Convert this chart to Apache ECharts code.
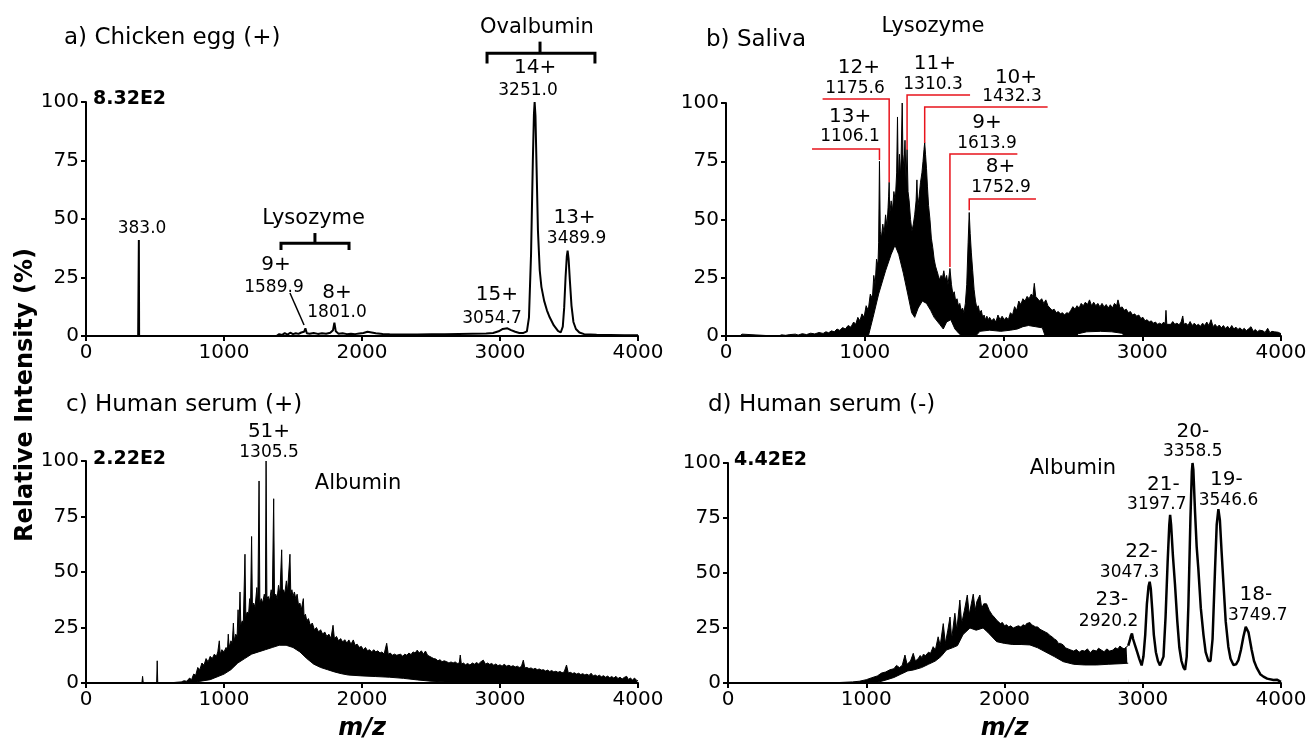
<!DOCTYPE html>
<html>
<head>
<meta charset="utf-8">
<script src="https://cdn.jsdelivr.net/npm/echarts@6/dist/echarts.min.js"></script>
<style>
  html, body { margin: 0; background: #fff; }
  #chart { width: 1312px; height: 744px; }
</style>
</head>
<body>
<div id="chart"></div>
<script>
// axis ticks
const mzTicks = [0, 1000, 2000, 3000, 4000];
const intensityTicks = [0, 25, 50, 75, 100];

// a) chicken egg (+), single trace
const eggTrace = [
  [0, 0], [378, 0], [381, 0], [383, 41], [385, 0], [1380, 0], [1400, 0.8], [1420, 0.4], [1440, 1.2], [1460, 0.6],
  [1480, 1.4], [1500, 0.8], [1520, 1.2], [1540, 0.9], [1560, 1.5], [1580, 1.8], [1590, 3.3], [1600, 1.2], [1620, 1],
  [1650, 1.3], [1680, 0.9], [1710, 1.2], [1740, 1], [1770, 1.4], [1790, 2.5], [1800, 5.7], [1810, 2], [1830, 1],
  [1860, 1.2], [1890, 0.8], [1920, 1], [1950, 0.8], [1980, 1.1], [2010, 1.3], [2040, 1.8], [2070, 1.5], [2100, 1.2],
  [2150, 0.9], [2200, 0.7], [2300, 0.6], [2400, 0.6], [2500, 0.7], [2600, 0.8], [2700, 0.9], [2800, 1], [2900, 1.1],
  [2950, 1.3], [2990, 2], [3020, 3], [3054, 3.3], [3080, 2.5], [3110, 1.8], [3140, 1.3], [3170, 1.3], [3195, 2],
  [3210, 8], [3225, 35], [3238, 75], [3246, 95], [3251, 100], [3257, 94], [3265, 72], [3275, 45], [3288, 28],
  [3300, 21], [3320, 15], [3340, 11], [3360, 8], [3390, 4.5], [3420, 2.2], [3440, 1.5], [3455, 4], [3465, 12],
  [3475, 25], [3484, 34], [3490, 36.5], [3497, 33], [3506, 24], [3518, 13], [3532, 6], [3550, 3], [3575, 1.5],
  [3610, 0.8], [3700, 0.5], [3800, 0.4], [3900, 0.3], [4000, 0.3]
];

// b) saliva, upper and lower edge of the dense trace
const salivaUpper = [
  [0, 0], [100, 0], [115, 0.8], [125, 0], [350, 0], [360, 0.6], [380, 0], [400, 0.5], [430, 0.3], [460, 0.6],
  [500, 0.8], [520, 0.4], [550, 1], [580, 0.6], [610, 1.2], [640, 0.9], [670, 1.5], [700, 1.1], [720, 1.8],
  [740, 1.4], [760, 2.2], [780, 1.8], [800, 3], [820, 2.4], [840, 3.6], [860, 3], [880, 4.5], [900, 3.8],
  [920, 6], [935, 5], [950, 8], [965, 6.5], [980, 9.5], [995, 8], [1010, 13], [1025, 11], [1040, 18], [1055, 16],
  [1065, 26], [1075, 22], [1085, 33], [1095, 30], [1100, 40], [1106, 75], [1112, 45], [1120, 42], [1130, 48],
  [1140, 44], [1150, 52], [1160, 47], [1168, 55], [1172, 60], [1176, 66], [1180, 52], [1190, 58], [1200, 54],
  [1210, 62], [1220, 58], [1230, 70], [1236, 94], [1242, 66], [1250, 78], [1256, 68], [1262, 76], [1270, 100],
  [1275, 78], [1282, 72], [1290, 84], [1298, 66], [1305, 80], [1312, 62], [1320, 58], [1330, 50], [1340, 45],
  [1350, 48], [1360, 52], [1370, 58], [1376, 67], [1382, 55], [1392, 60], [1402, 66], [1412, 70], [1420, 75],
  [1427, 80], [1432, 83], [1438, 78], [1445, 72], [1452, 64], [1460, 56], [1470, 50], [1480, 42], [1490, 38],
  [1500, 33], [1510, 30], [1520, 28], [1530, 26], [1540, 24], [1550, 26], [1560, 25], [1570, 28], [1580, 24],
  [1590, 26], [1600, 22], [1614, 29], [1625, 22], [1635, 18], [1645, 19], [1655, 15], [1665, 16], [1675, 13],
  [1685, 14], [1695, 11], [1705, 12], [1715, 10], [1725, 14], [1735, 22], [1745, 40], [1753, 53], [1760, 44],
  [1768, 36], [1778, 28], [1788, 20], [1798, 15], [1808, 12], [1818, 13], [1828, 10], [1840, 11], [1850, 8],
  [1860, 9], [1870, 7], [1880, 8.5], [1890, 7], [1900, 8], [1915, 6.5], [1930, 7.5], [1945, 6], [1960, 9],
  [1975, 7], [1990, 8.5], [2005, 7], [2020, 8], [2035, 7], [2050, 10], [2065, 9], [2080, 12.6], [2095, 11],
  [2110, 15], [2125, 13.5], [2140, 16], [2155, 15], [2170, 17], [2185, 16], [2200, 18], [2212, 17], [2222, 22.6],
  [2232, 17], [2245, 16.5], [2260, 15], [2275, 16], [2290, 14], [2305, 15.5], [2320, 13], [2335, 12], [2350, 11],
  [2365, 11.5], [2380, 10], [2395, 10.5], [2410, 9.5], [2425, 10], [2440, 9], [2455, 10], [2470, 9.7], [2485, 11],
  [2500, 12.6], [2515, 11.5], [2530, 13], [2545, 12], [2560, 14], [2575, 13], [2590, 14.5], [2605, 13.5],
  [2620, 15.5], [2635, 13], [2650, 14.5], [2665, 13], [2680, 14], [2695, 12.5], [2710, 14], [2725, 12.5],
  [2740, 13.5], [2755, 12], [2770, 13.4], [2785, 12], [2800, 14], [2815, 13], [2825, 15.5], [2840, 12],
  [2855, 12.5], [2870, 11], [2885, 11.5], [2900, 10], [2915, 10.5], [2930, 9], [2945, 9.5], [2960, 8.5],
  [2975, 9], [2990, 7.5], [3005, 8], [3020, 6.5], [3035, 7], [3050, 6], [3065, 6.5], [3080, 5.5], [3095, 6],
  [3110, 5], [3125, 5.5], [3140, 5], [3155, 6], [3165, 5], [3171, 11], [3177, 5], [3190, 5.5], [3205, 5],
  [3220, 6.2], [3235, 5], [3250, 5.5], [3265, 4.8], [3280, 6], [3292, 8.6], [3300, 5], [3315, 5.5], [3330, 4.5],
  [3345, 6.2], [3360, 4.5], [3375, 5.5], [3390, 4.5], [3405, 5], [3420, 4.2], [3435, 5.5], [3450, 4.5], [3465, 6],
  [3480, 4.5], [3496, 7], [3510, 4], [3525, 5], [3540, 3.8], [3555, 4.7], [3570, 3.5], [3585, 4.5], [3600, 3.2],
  [3615, 4.2], [3630, 3], [3645, 4.5], [3660, 3], [3675, 3.8], [3690, 2.8], [3705, 3.5], [3720, 2.5], [3735, 3.3],
  [3750, 2.3], [3765, 3], [3784, 4], [3800, 2], [3815, 2.8], [3830, 1.8], [3845, 2.5], [3856, 1.8], [3870, 2.2],
  [3885, 1.5], [3904, 3.3], [3920, 1.4], [3935, 2], [3952, 1.8], [3965, 1.2], [3980, 1.6], [4000, 1]
];
const salivaLower = [
  [0, 0], [1026, 0], [1060, 8], [1100, 18], [1150, 28], [1190, 35], [1218, 39], [1245, 35], [1278, 27],
  [1310, 18], [1338, 10], [1360, 8], [1385, 12], [1415, 15], [1445, 14], [1475, 11], [1500, 8], [1540, 5],
  [1566, 3], [1590, 6], [1620, 7], [1650, 3], [1680, 1], [1700, 0], [1800, 0], [1830, 2], [1900, 2.5], [1980, 2],
  [2050, 2.5], [2100, 3], [2140, 4], [2180, 4.5], [2230, 4], [2280, 3.5], [2300, 0], [2520, 0], [2540, 1],
  [2600, 1.8], [2700, 2], [2780, 1.8], [2850, 1.2], [2880, 0], [4000, 0]
];

// c) human serum (+)
const serumPosUpper = [
  [0, 0], [405, 0], [410, 3], [415, 0], [512, 0], [516, 10], [520, 0], [600, 0], [650, 0.3], [690, 0.5], [710, 1],
  [730, 0.8], [750, 2.2], [765, 1.5], [780, 4], [795, 3.5], [810, 7], [825, 6], [840, 9], [855, 8], [870, 11],
  [885, 9.5], [900, 12], [915, 11], [930, 13], [945, 12], [955, 14], [966, 19], [972, 13], [985, 15], [1000, 14],
  [1015, 16], [1025, 15], [1031, 22], [1037, 16], [1050, 19], [1060, 18], [1068, 27], [1074, 19], [1085, 22],
  [1095, 21], [1102, 33], [1108, 23], [1116, 41], [1122, 26], [1132, 28], [1140, 27], [1152, 58], [1158, 30],
  [1168, 32], [1178, 31], [1186, 38], [1192, 33], [1200, 66], [1206, 34], [1215, 36], [1225, 34], [1238, 43],
  [1245, 35], [1254, 91], [1260, 36], [1270, 38], [1280, 36], [1292, 40], [1300, 37], [1305, 100], [1311, 38],
  [1320, 39], [1330, 37], [1342, 42], [1350, 38], [1360, 83], [1366, 39], [1375, 40], [1385, 38], [1395, 44],
  [1405, 40], [1418, 60], [1424, 41], [1432, 42], [1440, 40], [1452, 46], [1460, 41], [1478, 58], [1484, 40],
  [1492, 42], [1500, 39], [1510, 41], [1520, 38], [1530, 40], [1540, 35], [1550, 36], [1560, 33], [1575, 38],
  [1580, 30], [1590, 31], [1600, 28], [1612, 29], [1625, 26], [1640, 27], [1655, 24], [1670, 25], [1685, 23],
  [1700, 24], [1715, 22], [1730, 23], [1745, 21], [1760, 22], [1775, 20], [1790, 26], [1800, 20], [1815, 21],
  [1830, 19], [1845, 20], [1860, 18.5], [1875, 19.5], [1890, 18], [1905, 19.4], [1920, 17.5], [1937, 19.4],
  [1950, 17], [1965, 17.5], [1980, 16], [1995, 16.5], [2010, 15], [2025, 16], [2040, 14.5], [2055, 15], [2070, 14],
  [2085, 15], [2100, 14], [2115, 14.5], [2130, 13.5], [2145, 14], [2160, 13], [2179, 17.9], [2190, 13],
  [2205, 13.5], [2220, 12.5], [2235, 13], [2251, 12.5], [2265, 12], [2280, 13], [2295, 12], [2310, 13],
  [2325, 12.5], [2340, 13.5], [2355, 12.8], [2370, 14], [2385, 13.5], [2400, 14.8], [2415, 13.5], [2430, 14.5],
  [2445, 13], [2460, 14.4], [2475, 12.5], [2490, 12], [2505, 11.5], [2520, 11], [2535, 10.8], [2550, 10],
  [2565, 10.5], [2580, 9.6], [2595, 10], [2614, 9.6], [2630, 9], [2645, 9.5], [2660, 9], [2675, 9.5], [2690, 8.8],
  [2705, 9], [2712, 12.6], [2720, 8.5], [2735, 9], [2750, 8.2], [2765, 8.8], [2782, 8.1], [2800, 9], [2815, 8.5],
  [2830, 9.2], [2845, 8.6], [2860, 9.5], [2879, 10.3], [2895, 8.5], [2910, 9], [2925, 8.4], [2940, 8.8], [2955, 8],
  [2970, 8.6], [2985, 7.8], [3000, 8.2], [3015, 7.6], [3030, 8.4], [3048, 7.6], [3065, 8], [3080, 7.4], [3095, 7.8],
  [3110, 7.2], [3125, 7.6], [3140, 7], [3155, 7.4], [3169, 10.3], [3180, 6.8], [3195, 7], [3210, 6.5], [3225, 6.8],
  [3240, 6.2], [3255, 6.6], [3270, 6], [3285, 6.3], [3300, 5.8], [3315, 6], [3330, 5.4], [3345, 5.8], [3360, 5.2],
  [3375, 5.6], [3390, 5], [3405, 5.3], [3420, 4.8], [3435, 5.2], [3450, 4.6], [3465, 5], [3482, 8.1], [3495, 4.5],
  [3510, 4.8], [3525, 4.3], [3540, 4.6], [3555, 4], [3570, 4.4], [3585, 3.8], [3600, 4.2], [3615, 3.6], [3630, 4],
  [3645, 3.4], [3660, 4.4], [3675, 3.2], [3690, 3.6], [3705, 3], [3720, 3.5], [3735, 2.8], [3750, 3.3], [3765, 2.6],
  [3780, 3.1], [3795, 2.4], [3810, 2.9], [3825, 2.2], [3840, 3], [3855, 2], [3870, 2.6], [3885, 1.8], [3900, 2.5],
  [3918, 3], [3930, 1.6], [3945, 2.2], [3960, 1.4], [3975, 2.2], [3990, 1.2], [4000, 1]
];
const serumPosLower = [
  [0, 0], [700, 0], [800, 0.5], [900, 1.5], [1000, 4], [1050, 6], [1100, 9], [1150, 11], [1200, 13], [1250, 14],
  [1300, 15], [1350, 16], [1400, 17], [1450, 17], [1500, 16], [1550, 14], [1600, 11], [1650, 8.5], [1700, 7],
  [1750, 6], [1800, 5], [1850, 4.2], [1900, 3.6], [2000, 3.2], [2100, 2.9], [2200, 2.6], [2300, 2.1], [2400, 1.4],
  [2500, 0.8], [2600, 0.5], [2800, 0.3], [3000, 0.2], [4000, 0]
];

// d) human serum (-): dense part, then resolved charge states
const serumNegUpper = [
  [0, 0], [700, 0], [800, 0.2], [900, 0.5], [950, 0.8], [1000, 1.5], [1040, 2.4], [1080, 3.2], [1110, 4.5],
  [1140, 5], [1171, 6], [1200, 6.5], [1219, 8], [1240, 7], [1260, 8], [1280, 12.7], [1295, 8.5], [1320, 10],
  [1340, 13.5], [1355, 10], [1375, 11], [1390, 12.5], [1405, 11.5], [1412, 13], [1430, 12.5], [1450, 14],
  [1465, 13.5], [1484, 16.5], [1500, 15], [1520, 21], [1535, 17], [1557, 27], [1572, 18], [1590, 24], [1606, 30],
  [1618, 20], [1641, 31.7], [1655, 24], [1677, 37.7], [1690, 27], [1710, 33], [1731, 40], [1745, 31], [1760, 36],
  [1774, 40.4], [1788, 33], [1800, 37], [1822, 40], [1835, 34], [1850, 36], [1870, 36], [1890, 33], [1910, 31],
  [1925, 30], [1943, 28.6], [1955, 29], [1970, 27], [1985, 27.5], [2000, 26], [2015, 26.5], [2030, 25.5],
  [2045, 26], [2063, 25], [2080, 25.5], [2100, 26], [2118, 25.5], [2135, 26.5], [2150, 26], [2160, 27],
  [2172, 26.5], [2184, 27.5], [2196, 26.5], [2210, 26.5], [2225, 25.5], [2240, 25.5], [2255, 24.5], [2270, 24],
  [2285, 23.5], [2300, 23], [2315, 22.5], [2330, 21.5], [2345, 21], [2360, 20], [2375, 19.5], [2390, 18],
  [2405, 18], [2425, 17.3], [2440, 16], [2460, 15.5], [2480, 15], [2500, 14.5], [2520, 15.2], [2540, 14],
  [2560, 14.8], [2580, 14.5], [2600, 15.5], [2620, 13.8], [2640, 15], [2666, 14.5], [2680, 15.8], [2700, 15],
  [2720, 14.2], [2740, 15.5], [2760, 14.5], [2786, 15], [2800, 16], [2820, 15.5], [2835, 16.8], [2850, 16],
  [2865, 15.5], [2883, 16.5], [2895, 17]
];
const serumNegLower = [
  [0, 0], [1000, 0], [1099, 0.6], [1150, 1.5], [1200, 2.5], [1250, 4], [1300, 5.5], [1340, 5.9], [1400, 7],
  [1450, 8.5], [1500, 10], [1540, 12], [1580, 15], [1623, 16], [1660, 17], [1700, 22], [1750, 25], [1795, 24],
  [1845, 25], [1880, 23], [1943, 18.8], [2000, 18], [2060, 17.5], [2120, 17.5], [2184, 17.3], [2240, 16],
  [2300, 14], [2360, 12], [2425, 9.7], [2500, 8.5], [2580, 8.2], [2666, 8.2], [2750, 8.5], [2850, 8.8], [2895, 9]
];
const serumNegPeaks = [
  [2895, 17], [2905, 19], [2915, 21.5], [2922, 22.5], [2930, 20], [2945, 17], [2960, 14], [2975, 11], [2992, 8],
  [3005, 12], [3018, 22], [3030, 36], [3042, 44], [3050, 46], [3058, 43], [3068, 34], [3080, 22], [3095, 14],
  [3110, 10], [3125, 8], [3137, 7.4], [3150, 12], [3165, 30], [3180, 55], [3192, 72], [3198, 76.4], [3205, 72],
  [3218, 58], [3233, 45], [3250, 28], [3265, 16], [3280, 10], [3295, 7], [3306, 6], [3318, 12], [3330, 35],
  [3345, 75], [3355, 96], [3360, 100], [3366, 97], [3378, 78], [3390, 62], [3402, 52], [3420, 34], [3439, 22],
  [3455, 14], [3475, 10], [3490, 10], [3505, 20], [3523, 52], [3535, 72], [3547, 79], [3558, 74], [3570, 60],
  [3583, 46], [3600, 28], [3619, 16.5], [3635, 11], [3656, 8.2], [3675, 8.5], [3692, 10.4], [3710, 15], [3728, 21],
  [3745, 25.5], [3752, 25.6], [3765, 23], [3788, 15], [3805, 10], [3824, 7], [3850, 4], [3873, 2.9], [3900, 2],
  [3945, 1.4], [3970, 1.5], [3993, 0.7], [4000, 0.5]
];

const panelTitles = ['a) Chicken egg (+)', 'b) Saliva', 'c) Human serum (+)', 'd) Human serum (-)'];
const baseIntensities = ['8.32E2', '', '2.22E2', '4.42E2'];

// [panel, text, m/z, intensity] – annotation anchors in data units
const chargeLabels = [
  [0, '14+', 3254, 114.5], [0, '9+', 1377, 30.3], [0, '8+', 1819, 18.4], [0, '15+', 2978, 17.5], [0, '13+', 3540, 50.4],
  [1, '12+', 958, 115], [1, '13+', 894, 94], [1, '11+', 1506, 116.7], [1, '10+', 2090, 111], [1, '9+', 1881, 91.4],
  [1, '8+', 1979, 72.5],
  [2, '51+', 1326, 113],
  [3, '20-', 3362, 114], [3, '21-', 3149, 90], [3, '19-', 3605, 92.3], [3, '22-', 2991, 59.5], [3, '23-', 2777, 37.7],
  [3, '18-', 3818, 40]
];
const massLabels = [
  [0, '3251.0', 3203, 105], [0, '1589.9', 1362, 20.9], [0, '1801.0', 1819, 9.8], [0, '3054.7', 2942, 7.3],
  [0, '3489.9', 3555, 41.5], [0, '383.0', 406, 46],
  [1, '1175.6', 930, 106], [1, '1106.1', 894, 85.4], [1, '1310.3', 1492, 107.7], [1, '1432.3', 2061, 102.6],
  [1, '1613.9', 1881, 82.4], [1, '1752.9', 1982, 63.5],
  [2, '1305.5', 1326, 104],
  [3, '3358.5', 3362, 105], [3, '3197.7', 3102, 81], [3, '3546.6', 3620, 82.7], [3, '3047.3', 2905, 50],
  [3, '2920.2', 2753, 27.7], [3, '3749.7', 3832, 30.5]
];
const proteinLabels = [
  [0, 'Ovalbumin', 3268, 132], [0, 'Lysozyme', 1649, 50.4], [1, 'Lysozyme', 1492, 133],
  [2, 'Albumin', 1971, 90], [3, 'Albumin', 2495, 97.3]
];
// brackets and leader lines in panel a, red leaders in panel b
const blackLeaders = [
  [0, [[2906, 116.5], [2906, 120.8], [3688, 120.8], [3688, 116.5]]],
  [0, [[3290, 120.8], [3290, 125.8]]],
  [0, [[1413, 36.8], [1413, 39.6], [1906, 39.6], [1906, 36.8]]],
  [0, [[1659, 39.6], [1659, 44]]],
  [0, [[1478, 18.4], [1580, 4.7]]]
];
const redLeaders = [
  [1, [[620, 80.3], [1106, 80.3], [1106, 75.5]]],
  [1, [[696, 101.7], [1176, 101.7], [1176, 66]]],
  [1, [[1305, 79.8], [1305, 103.4], [1759, 103.4]]],
  [1, [[1432, 82.8], [1432, 98.3], [2318, 98.3]]],
  [1, [[1614, 29.6], [1614, 78.1], [2100, 78.1]]],
  [1, [[1753, 54], [1753, 58.8], [2234, 58.8]]]
];

const FONT = 'DejaVu Sans';
const chart = echarts.init(document.getElementById('chart'));

const grids = [
  { left: 86, top: 102, width: 552, height: 234 },
  { left: 726, top: 103, width: 555, height: 233 },
  { left: 86, top: 461, width: 552, height: 222 },
  { left: 728, top: 463, width: 553, height: 220 }
].map(g => ({ ...g, outerBoundsMode: 'none', containLabel: false }));

const axisCommon = {
  axisLine: { show: true, lineStyle: { color: '#000', width: 2 } },
  axisTick: { show: true, length: 5, lineStyle: { color: '#000', width: 2 } },
  axisLabel: { color: '#000', fontFamily: FONT, fontSize: 20, margin: 7, formatter: v => String(v) },
  splitLine: { show: false },
  z: 10
};

const xAxes = grids.map((g, i) => ({
  ...axisCommon,
  type: 'value',
  gridIndex: i,
  min: mzTicks[0],
  max: mzTicks[mzTicks.length - 1],
  interval: mzTicks[1] - mzTicks[0],
  name: i >= 2 ? 'm/z' : '',
  nameLocation: 'middle',
  nameGap: 34,
  nameTextStyle: { color: '#000', fontFamily: FONT, fontSize: 24, fontWeight: 'bold', fontStyle: 'italic' }
}));

const yAxes = grids.map((g, i) => ({
  ...axisCommon,
  type: 'value',
  gridIndex: i,
  min: intensityTicks[0],
  max: intensityTicks[intensityTicks.length - 1],
  interval: intensityTicks[1] - intensityTicks[0]
}));

const trace = (i, data, opts = {}) => ({
  type: 'line',
  xAxisIndex: i,
  yAxisIndex: i,
  data,
  showSymbol: false,
  symbol: 'none',
  silent: true,
  animation: false,
  lineStyle: { color: '#000', width: opts.width || 1 },
  areaStyle: opts.fill ? { color: opts.fill, opacity: 1 } : undefined,
  z: opts.z || 2
});

const titles = [];
const titlePos = [[64, 27], [706, 29], [66, 394], [708, 394]];
panelTitles.forEach((t, i) => titles.push({
  text: t, left: titlePos[i][0], top: titlePos[i][1], padding: 0,
  textStyle: { color: '#000', fontFamily: FONT, fontSize: 23, fontWeight: 'normal' }
}));
const basePos = [[93, 90], null, [93, 450], [734, 451]];
baseIntensities.forEach((t, i) => {
  if (!t) return;
  titles.push({
    text: t, left: basePos[i][0], top: basePos[i][1], padding: 0,
    textStyle: { color: '#000', fontFamily: FONT, fontSize: 19, fontWeight: 'bold' }
  });
});

chart.setOption({
  backgroundColor: '#fff',
  animation: false,
  title: titles,
  grid: grids,
  xAxis: xAxes,
  yAxis: yAxes,
  series: [
    trace(0, eggTrace, { width: 2 }),
    trace(1, salivaUpper, { fill: '#000', z: 2 }),
    trace(1, salivaLower, { fill: '#fff', z: 3 }),
    trace(2, serumPosUpper, { fill: '#000', z: 2 }),
    trace(2, serumPosLower, { fill: '#fff', z: 3 }),
    trace(3, serumNegUpper, { fill: '#000', z: 2 }),
    trace(3, serumNegLower, { fill: '#fff', z: 3 }),
    trace(3, serumNegPeaks, { width: 2.5, z: 4 })
  ]
});

// annotations anchored to data coordinates
const toPx = (i, p) => chart.convertToPixel({ gridIndex: i }, p);
const graphics = [];
const addText = (i, text, mz, val, size, weight) => {
  const [x, y] = toPx(i, [mz, val]);
  graphics.push({
    type: 'text', x, y, silent: true, z: 20,
    style: {
      text, fill: '#000', fontFamily: FONT, fontSize: size, fontWeight: weight || 'normal',
      align: 'center', verticalAlign: 'middle', textAlign: 'center', textVerticalAlign: 'middle'
    }
  });
};
chargeLabels.forEach(([i, t, mz, v]) => addText(i, t, mz, v, 20));
massLabels.forEach(([i, t, mz, v]) => addText(i, t, mz, v, 17));
proteinLabels.forEach(([i, t, mz, v]) => addText(i, t, mz, v, 21));

const addLine = (i, pts, color, width) => graphics.push({
  type: 'polyline', silent: true, z: 20,
  shape: { points: pts.map(p => toPx(i, p)) },
  style: { stroke: color, lineWidth: width, fill: null }
});
blackLeaders.forEach(([i, pts], k) => addLine(i, pts, '#000', k === 4 ? 1.5 : 3));
redLeaders.forEach(([i, pts]) => addLine(i, pts, '#e8141c', 1.5));

graphics.push({
  type: 'text', x: 26, y: 395, rotation: Math.PI / 2, silent: true,
  style: {
    text: 'Relative Intensity (%)', fill: '#000', fontFamily: FONT, fontSize: 24, fontWeight: 'bold',
    align: 'center', verticalAlign: 'middle', textAlign: 'center', textVerticalAlign: 'middle'
  }
});

chart.setOption({ graphic: graphics });
</script>
</body>
</html>
